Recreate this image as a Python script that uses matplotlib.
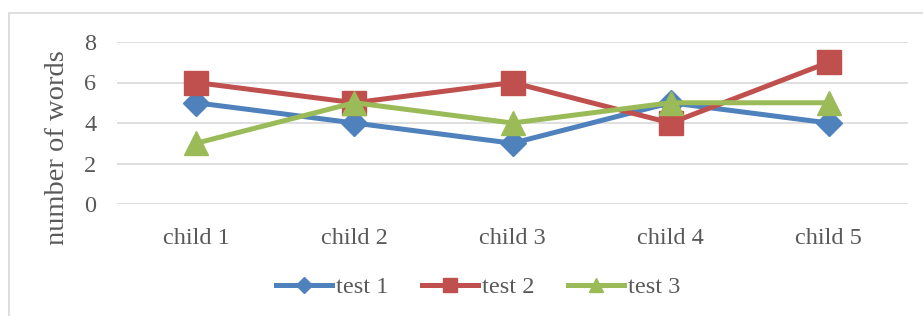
import matplotlib
matplotlib.use("Agg")
import matplotlib.pyplot as plt
from matplotlib.patches import Rectangle

categories = ["child 1", "child 2", "child 3", "child 4", "child 5"]
test1 = [5, 4, 3, 5, 4]
test2 = [6, 5, 6, 4, 7]
test3 = [3, 5, 4, 5, 5]
yticks = [0, 2, 4, 6, 8]

W, H = 923, 316
fig = plt.figure(figsize=(W / 100, H / 100), dpi=100)
plt.rcParams['font.family'] = ['Liberation Serif', 'DejaVu Serif']
txt = '#595959'

# chart border
fig.patches.append(Rectangle((9 / W, -0.1), 1.2, (H - 13) / H + 0.1, transform=fig.transFigure,
                             fill=False, edgecolor='#D9D9D9', linewidth=1.2))

ax = fig.add_axes([117 / W, 1 - 204 / H, (908 - 117) / W, (204 - 42) / H])
x = list(range(len(categories)))
ax.plot(x, test1, color='#4F81BD', lw=3.6, marker='D', ms=13.5, label='test 1', zorder=3)
ax.plot(x, test2, color='#C0504D', lw=3.6, marker='s', ms=17.5, label='test 2', zorder=3)
ax.plot(x, test3, color='#9BBB59', lw=3.6, marker='^', ms=17, label='test 3', zorder=3)

ax.set_xlim(-0.5, 4.5)
ax.set_ylim(0, 8)
ax.set_yticks(yticks)
ax.set_xticks(x)
ax.set_xticklabels(categories)
ax.grid(axis='y', color='#D9D9D9', lw=1.2)
ax.set_axisbelow(True)
for s in ax.spines.values():
    s.set_visible(False)
ax.tick_params(length=0, labelsize=17.5, colors=txt)
ax.tick_params(axis='x', pad=17)
ax.tick_params(axis='y', pad=15)
ax.set_ylabel('number of words', fontsize=20.5, color=txt)
ax.yaxis.set_label_coords((70 - 117) / (908 - 117), (204 - 148) / (204 - 42))

ax.legend(loc='center', bbox_to_anchor=(478 / W, 1 - 287 / H), bbox_transform=fig.transFigure,
          ncol=3, frameon=False, fontsize=17.5, labelcolor=txt, handlelength=2.3,
          handletextpad=0.15, columnspacing=1.4, markerscale=0.6)

fig.savefig('out.png', dpi=100)
